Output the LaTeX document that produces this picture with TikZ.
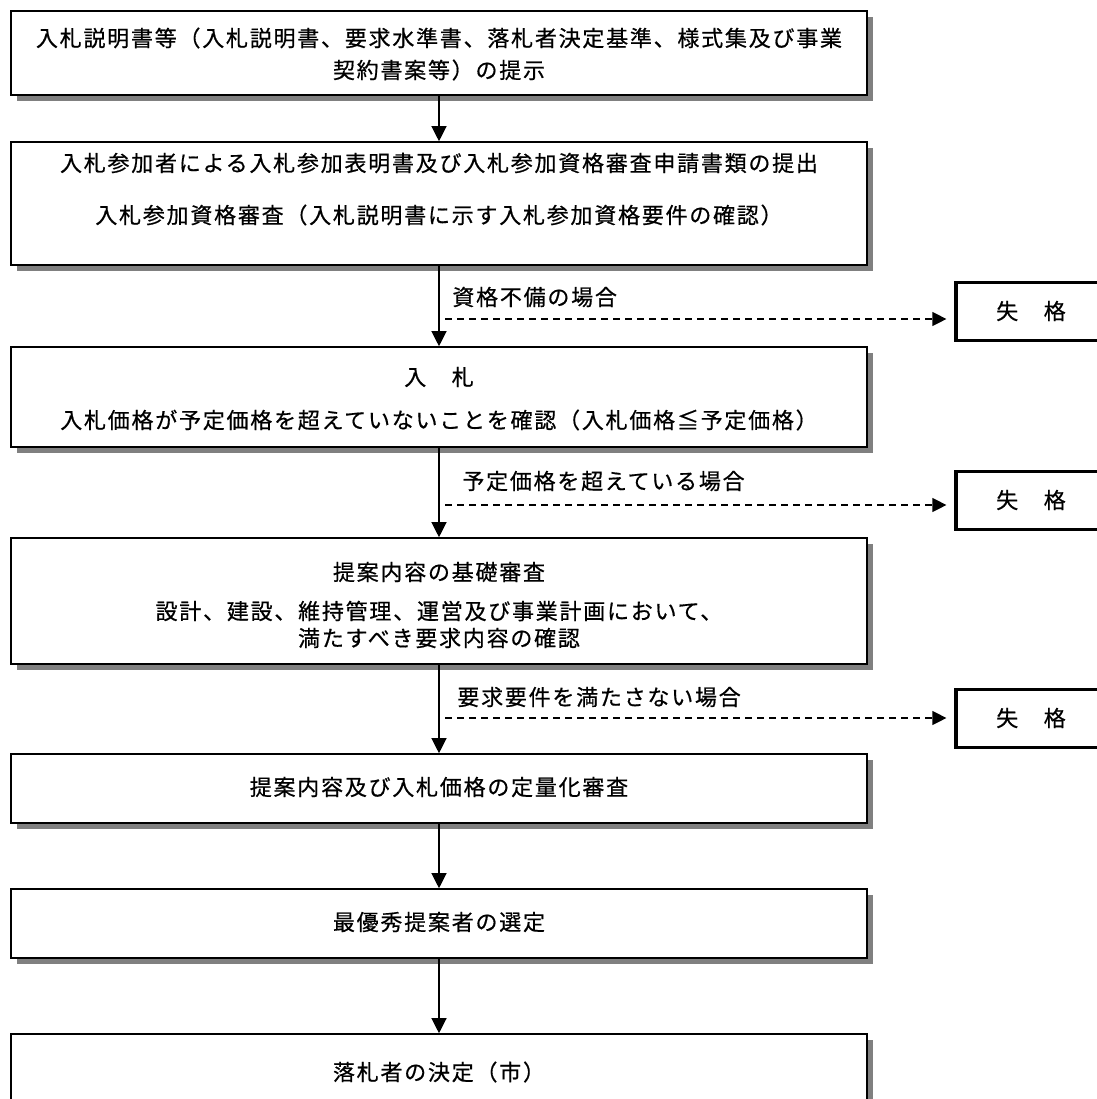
\documentclass[tikz,border=0pt]{standalone}
\usepackage{fontspec}
\setmainfont{Noto Sans CJK JP}[LetterSpace=8, FakeBold=0.6]
\usetikzlibrary{arrows.meta,shadows}
\begin{document}
\begin{tikzpicture}[x=0.5pt,y=-0.5pt,
  box/.style={draw, line width=0.8pt, fill=white, inner sep=0pt,
    minimum width=428pt,
    drop shadow={shadow xshift=2.75pt, shadow yshift=-2.75pt, fill=black!50, opacity=1}},
  failbox/.style={draw, line width=1.6pt, fill=white, inner sep=0pt,
    minimum width=72pt, minimum height=29pt},
  txt/.style={font=\fontsize{11pt}{13pt}\selectfont, inner sep=0pt, anchor=center},
  lbl/.style={font=\fontsize{11pt}{13pt}\selectfont, inner sep=0pt, anchor=west},
  arr/.style={line width=0.6pt, -{Triangle[length=7.5pt,width=7.5pt]}},
  darr/.style={line width=0.6pt, dash pattern=on 3.5pt off 2.5pt,
    -{Triangle[length=7pt,width=7pt]}, shorten >=4pt}]
\useasboundingbox (0,0) rectangle (1097,1099);

% main boxes
\node[box, minimum height=42pt]   (b1) at (439,53)   {};
\node[box, minimum height=61.5pt] (b2) at (439,203.5) {};
\node[box, minimum height=50pt]   (b3) at (439,397)  {};
\node[box, minimum height=63pt]   (b4) at (439,601)  {};
\node[box, minimum height=34.5pt] (b5) at (439,788.5) {};
\node[box, minimum height=34.5pt] (b6) at (439,923.5) {};
\node[box, minimum height=38pt]   (b7) at (439,1072) {};

% texts
\node[txt] (t1a) at (439,38)  {入札説明書等（入札説明書、要求水準書、落札者決定基準、様式集及び事業};
\node[txt] (t1b) at (439,70)  {契約書案等）の提示};
\node[txt] (t2a) at (439,163) {入札参加者による入札参加表明書及び入札参加資格審査申請書類の提出};
\node[txt] (t2b) at (439,215) {入札参加資格審査（入札説明書に示す入札参加資格要件の確認）};
\node[txt] (t3a) at (439,377) {入　札};
\node[txt] (t3b) at (439,420) {入札価格が予定価格を超えていないことを確認（入札価格≦予定価格）};
\node[txt] (t4a) at (439,572) {提案内容の基礎審査};
\node[txt] (t4b) at (439,611) {設計、建設、維持管理、運営及び事業計画において、};
\node[txt] (t4c) at (439,638) {満たすべき要求内容の確認};
\node[txt] (t5)  at (439,787) {提案内容及び入札価格の定量化審査};
\node[txt] (t6)  at (439,922) {最優秀提案者の選定};
\node[txt] (t7)  at (439,1072) {落札者の決定（市）};

% fail boxes
\node[failbox] (f1) at (1028,311.5) {};
\node[failbox] (f2) at (1028,500.5) {};
\node[failbox] (f3) at (1028,718.5) {};
\node[txt] (tf1) at (1031,311) {失　格};
\node[txt] (tf2) at (1031,500) {失　格};
\node[txt] (tf3) at (1031,718) {失　格};

% main arrows
\draw[arr] (b1.south) -- (b2.north);
\draw[arr] (b2.south) -- (b3.north);
\draw[arr] (b3.south) -- (b4.north);
\draw[arr] (b4.south) -- (b5.north);
\draw[arr] (b5.south) -- (b6.north);
\draw[arr] (b6.south) -- (b7.north);

% dashed branches
\coordinate (d1) at (445,319);
\coordinate (d2) at (445,505);
\coordinate (d3) at (445,718);
\draw[darr] (d1) -- (d1 -| f1.west);
\draw[darr] (d2) -- (d2 -| f2.west);
\draw[darr] (d3) -- (d3 -| f3.west);

\node[lbl] (l1) at (452,297) {資格不備の場合};
\node[lbl] (l2) at (462,481) {予定価格を超えている場合};
\node[lbl] (l3) at (457,697) {要求要件を満たさない場合};
\end{tikzpicture}
\end{document}
